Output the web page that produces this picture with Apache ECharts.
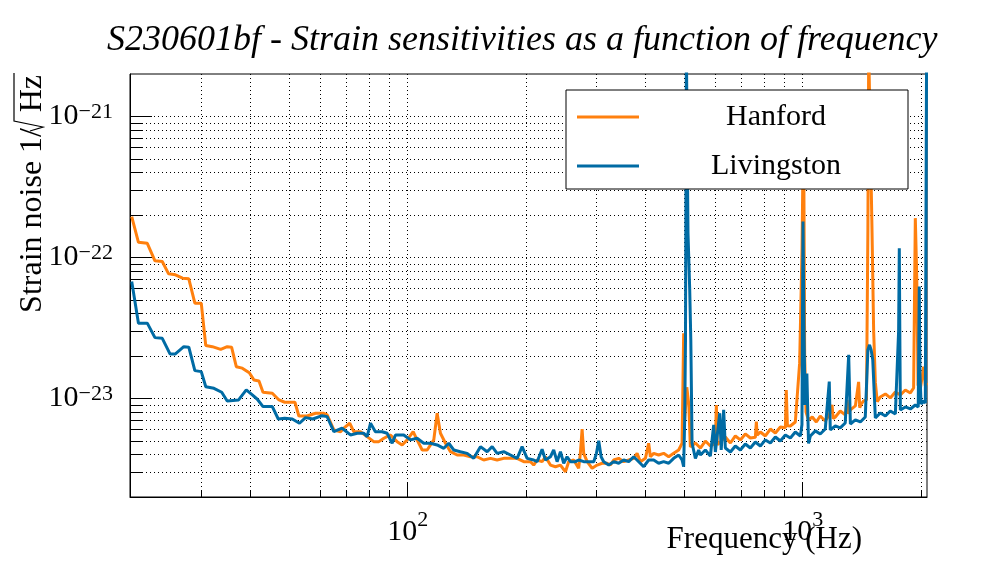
<!DOCTYPE html>
<html><head><meta charset="utf-8">
<script src="https://cdn.jsdelivr.net/npm/echarts@6/dist/echarts.min.js"></script>
<style>html,body{margin:0;padding:0;background:#fff}#c{width:996px;height:572px}</style>
</head><body><div id="c"></div>
<script>
// Frequency (Hz) and strain noise in units of 1e-23 / sqrt(Hz)
const hanford = [[20.0,19.5],[20.8,12.8],[21.9,12.6],[22.9,9.46],[23.9,9.35],[24.8,7.65],[25.8,7.53],[26.9,7.13],[27.9,7.05],[28.9,4.74],[30.0,4.74],[30.8,2.37],[32.0,2.33],[33.6,2.23],[34.9,2.33],[35.8,2.31],[36.8,1.68],[38.1,1.64],[39.7,1.52],[40.8,1.35],[42.0,1.33],[43.0,1.107],[45.4,1.089],[47.2,0.976],[48.8,0.940],[51.8,0.940],[53.0,0.751],[55.6,0.751],[58.4,0.785],[61.3,0.785],[62.5,0.764],[65.0,0.598],[67.6,0.581],[68.9,0.615],[71.3,0.667],[73.0,0.581],[75.9,0.581],[78.9,0.536],[82.0,0.494],[84.5,0.494],[87.0,0.522],[90.4,0.551],[94.0,0.494],[96.8,0.468],[99.7,0.508],[103.2,0.581],[105.6,0.508],[108.8,0.431],[112.0,0.431],[116.4,0.508],[118.7,0.785],[121.0,0.566],[124.6,0.481],[128.3,0.419],[133.4,0.397],[138.6,0.397],[144.1,0.386],[149.8,0.386],[155.7,0.366],[162.0,0.376],[168.4,0.366],[175.0,0.376],[182.0,0.376],[189.2,0.376],[196.7,0.356],[204.5,0.356],[208.4,0.337],[212.6,0.366],[218.9,0.356],[223.2,0.386],[229.8,0.337],[236.6,0.328],[243.6,0.337],[250.8,0.302],[255.6,0.356],[263.2,0.366],[270.9,0.320],[273.6,0.408],[276.4,0.605],[279.0,0.408],[284.6,0.356],[293.0,0.320],[301.7,0.337],[310.6,0.347],[319.8,0.347],[326.0,0.337],[332.3,0.366],[342.1,0.376],[352.3,0.356],[362.7,0.366],[373.5,0.376],[380.9,0.408],[388.3,0.356],[399.8,0.376],[407.5,0.481],[411.6,0.386],[419.6,0.408],[431.9,0.397],[444.7,0.408],[457.9,0.386],[471.4,0.408],[485.4,0.431],[495.1,0.481],[499.7,2.90],[502.7,0.70],[509,1.2],[515,0.9],[519.6,0.453],[535.1,0.483],[550.8,0.445],[567.2,0.499],[583.9,0.460],[601.2,0.480],[604.6,0.899],[608,0.47],[618.9,0.491],[637.2,0.533],[656.2,0.483],[675.5,0.542],[695.5,0.508],[715.9,0.560],[737.2,0.524],[759.1,0.530],[763.5,0.684],[767,0.55],[781.5,0.578],[804.7,0.542],[828.4,0.607],[853.0,0.569],[878.2,0.628],[904.2,0.62],[909,1.149],[915,0.64],[930.9,0.638],[958.3,0.681],[982.6,1.78],[996.5,11.6],[1003,60],[1007,40],[1012,2.0],[1020,0.8],[1034,0.704],[1058,0.739],[1083,0.681],[1108,0.751],[1141,0.692],[1168,0.764],[1187,0.899],[1195,0.72],[1210,0.739],[1245,0.815],[1282,0.764],[1296,0.976],[1305,0.78],[1321,0.829],[1360,0.885],[1386,1.31],[1395,0.86],[1408,0.914],[1427,0.960],[1451,0.976],[1463,15.7],[1470,300],[1484,300],[1498,16.6],[1513,3.0],[1528,1.3],[1545,0.95],[1573,1.025],[1620,1.076],[1667,1.008],[1717,1.112],[1768,1.059],[1820,1.149],[1874,1.094],[1910,1.187],[1929,19.0],[1945,7.33],[1960,1.247],[1986,1.168],[2025,1.68],[2045,1.226],[2062,1.29]];

const livingston = [[20.0,6.74],[20.8,3.42],[21.9,3.42],[22.9,2.70],[23.9,2.67],[25.0,2.07],[25.8,2.07],[27.1,2.33],[27.9,2.31],[28.9,1.575],[30.0,1.55],[30.8,1.21],[32.3,1.18],[33.8,1.107],[34.9,0.960],[37.3,0.976],[39.0,1.149],[40.4,1.059],[41.6,0.987],[43.0,0.875],[45.4,0.875],[47.0,0.715],[48.8,0.723],[51.0,0.715],[53.2,0.667],[55.1,0.731],[57.5,0.715],[60.7,0.755],[62.5,0.743],[65.0,0.581],[68.2,0.615],[71.6,0.551],[74.5,0.566],[77.4,0.566],[78.9,0.536],[80.5,0.667],[82.8,0.581],[86.1,0.581],[88.7,0.566],[91.3,0.481],[93.1,0.551],[97.7,0.551],[101.6,0.508],[105.6,0.522],[109.8,0.481],[114.2,0.481],[118.7,0.468],[123.4,0.443],[127.0,0.481],[130.8,0.431],[135.9,0.419],[141.4,0.408],[146.9,0.376],[152.8,0.455],[158.9,0.419],[163.6,0.455],[168.4,0.408],[175.0,0.419],[182.0,0.397],[189.2,0.376],[194.8,0.455],[200.6,0.376],[208.4,0.366],[212.6,0.356],[218.9,0.436],[223.2,0.366],[229.8,0.386],[234.2,0.431],[238.9,0.356],[243.6,0.419],[248.3,0.347],[253.2,0.386],[258.2,0.356],[265.8,0.356],[270.9,0.366],[279.0,0.356],[287.2,0.356],[295.8,0.356],[300.5,0.408],[304.5,0.502],[308.8,0.386],[313.5,0.356],[322.8,0.337],[332.3,0.356],[342.1,0.347],[352.3,0.366],[362.7,0.356],[373.5,0.386],[384.5,0.356],[395.9,0.328],[407.5,0.366],[419.6,0.366],[431.9,0.347],[444.7,0.356],[457.9,0.347],[471.4,0.376],[485.4,0.397],[495.1,0.366],[499.7,0.328],[502.7,0.704],[505.0,2.5],[507.7,300],[509.8,300],[512.5,14.9],[517.6,6.0],[521.0,2.60],[524.8,0.481],[535.1,0.376],[545.5,0.431],[550.8,0.397],[567.2,0.431],[583.9,0.390],[595.3,0.649],[601.2,0.417],[616.6,0.785],[622.0,0.431],[631.0,0.829],[637.2,0.445],[656.2,0.417],[675.5,0.460],[695.5,0.431],[715.9,0.475],[737.2,0.445],[759.1,0.491],[781.5,0.460],[804.7,0.508],[828.4,0.483],[853.0,0.533],[878.2,0.499],[904.2,0.551],[930.9,0.524],[958.3,0.578],[986.7,0.542],[996.0,0.65],[1002.0,18.0],[1008.0,3.0],[1014.0,0.9],[1025.0,1.5],[1035.0,0.48],[1046.0,0.542],[1077.0,0.589],[1108.0,0.560],[1141.0,0.607],[1168.0,1.316],[1175.0,0.598],[1210.0,0.638],[1245.0,0.618],[1282.0,0.670],[1308.0,2.04],[1321.0,0.659],[1360.0,0.704],[1400.0,0.681],[1441.0,0.739],[1463.0,2.21],[1477.0,2.40],[1491.0,2.21],[1505.0,1.88],[1528.0,0.727],[1573.0,0.789],[1620.0,0.751],[1667.0,0.815],[1717.0,0.776],[1750.0,3.0],[1757.0,11.6],[1764.0,2.0],[1768.0,0.829],[1820.0,0.870],[1874.0,0.842],[1929.0,0.899],[1962.0,0.870],[1968.0,2.2],[1974.0,6.22],[1982.0,1.5],[1995.0,0.914],[2025.0,0.960],[2045.0,0.929],[2055.0,0.95],[2060.0,300]];

// the y axis is expressed in units of 10^ASD_EXP
const ASD_EXP = -23;
const xMajorTicks = [100, 1000];
const xMinorTicks = [30,40,50,60,70,80,90,200,300,400,500,600,700,800,900,2000];
const yMajorTicks = [1, 10, 100];
const yMinorTicks = [0.3,0.4,0.5,0.6,0.7,0.8,0.9,2,3,4,5,6,7,8,9,20,30,40,50,60,70,80,90];
const seriesNames = ['Hanford', 'Livingston'];
const titleText = 'S230601bf - Strain sensitivities as a function of frequency';
const xTitle = 'Frequency (Hz)';

const FONT = '"Liberation Serif", "Times New Roman", serif';
const chart = echarts.init(document.getElementById('c'));
function expText(e) { return e < 0 ? '\u2212' + (-e) : String(e); }
const xLabel = v => '{b|10}{s|' + expText(Math.round(Math.log10(v))) + '}';
const yLabel = v => '{b|10}{s|' + expText(Math.round(Math.log10(v)) + ASD_EXP) + '}';
const labelRich = {
  b: {fontSize: 30, fontFamily: FONT, color: '#000', lineHeight: 38, verticalAlign: 'bottom'},
  s: {fontSize: 22, fontFamily: FONT, color: '#000', lineHeight: 22, verticalAlign: 'top'}
};
const yLabelRich = {
  b: {fontSize: 30, fontFamily: FONT, color: '#000', lineHeight: 30, verticalAlign: 'bottom', padding: [16, 0, 0, 0]},
  s: {fontSize: 22, fontFamily: FONT, color: '#000', lineHeight: 22, verticalAlign: 'top', padding: [0, 0, 0, 0]}
};
const dotted = {color: '#000', width: 1, type: [1, 3]};
const xRange = {min: 19.8, max: 2065};
const yRange = {min: 0.2, max: 200};

const option = {
  animation: false,
  backgroundColor: '#fff',
  title: {
    text: titleText, left: 107, top: 23, padding: 0,
    textStyle: {fontFamily: FONT, fontStyle: 'italic', fontWeight: 'normal', fontSize: 36, color: '#000'}
  },
  grid: {left: 130, right: 69, top: 74, bottom: 75, show: true, borderColor: '#000', borderWidth: 1, backgroundColor: 'transparent'},
  legend: {
    orient: 'vertical', left: 566, top: 90, padding: [12, 0, 8, 11], itemGap: 19,
    itemWidth: 62, itemHeight: 3, icon: 'rect',
    backgroundColor: '#fff', borderColor: '#000', borderWidth: 1, borderRadius: 0,
    selectedMode: false,
    data: seriesNames,
    formatter: n => '{n|' + n + '}',
    textStyle: {rich: {n: {width: 264, height: 30, align: 'center', fontSize: 30, fontFamily: FONT, lineHeight: 30, color: '#000'}}}
  },
  xAxis: [
    Object.assign({type: 'log', logBase: 10, position: 'bottom',
      axisLine: {show: true, onZero: false, lineStyle: {color: '#000', width: 1}},
      axisTick: {show: true, inside: true, length: 7, customValues: xMinorTicks.concat(xMajorTicks), lineStyle: {color: '#000', width: 1}},
      minorTick: {show: false},
      splitLine: {show: true, lineStyle: dotted},
      axisLabel: {customValues: xMajorTicks, formatter: xLabel, margin: 12, rich: labelRich}
    }, xRange),
    Object.assign({type: 'log', logBase: 10, position: 'bottom',
      axisLine: {show: false},
      axisTick: {show: true, inside: true, length: 15, customValues: xMajorTicks, lineStyle: {color: '#000', width: 1}},
      splitLine: {show: false}, axisLabel: {show: false}
    }, xRange)
  ],
  yAxis: [
    Object.assign({type: 'log', logBase: 10, position: 'left',
      axisLine: {show: true, onZero: false, lineStyle: {color: '#000', width: 1}},
      axisTick: {show: true, inside: true, length: 12, customValues: yMinorTicks.concat(yMajorTicks), lineStyle: {color: '#000', width: 1}},
      minorTick: {show: false},
      splitLine: {show: true, lineStyle: dotted},
      axisLabel: {customValues: yMajorTicks, formatter: yLabel, margin: 17, rich: yLabelRich}
    }, yRange),
    Object.assign({type: 'log', logBase: 10, position: 'left',
      axisLine: {show: false},
      axisTick: {show: true, inside: true, length: 22, customValues: yMajorTicks, lineStyle: {color: '#000', width: 1}},
      splitLine: {show: false}, axisLabel: {show: false}
    }, yRange)
  ],
  graphic: [
    {type: 'text', rotation: Math.PI / 2, x: 17, y: 128,
      style: {text: 'Strain noise 1/', font: '32px "Liberation Serif"', fill: '#000', align: 'right', verticalAlign: 'top'}},
    {type: 'text', rotation: Math.PI / 2, x: 17, y: 75,
      style: {text: 'Hz', font: '32px "Liberation Serif"', fill: '#000', align: 'right', verticalAlign: 'top'}},
    {type: 'polyline', shape: {points: [[30, 131], [43, 127], [14, 121], [14, 73]]}, style: {stroke: '#000', lineWidth: 1.2, fill: null}},
    {type: 'text', x: 862, y: 540,
      style: {text: xTitle, font: '31px "Liberation Serif"', fill: '#000', align: 'right', verticalAlign: 'middle'}}
  ],
  series: [
    {name: seriesNames[0], type: 'line', xAxisIndex: 0, yAxisIndex: 0, showSymbol: false, symbol: 'none', clip: true,
      color: '#FF800E', lineStyle: {width: 3, color: '#FF800E'},
      data: hanford},
    {name: seriesNames[1], type: 'line', xAxisIndex: 0, yAxisIndex: 0, showSymbol: false, symbol: 'none', clip: true,
      color: '#006BA4', lineStyle: {width: 3, color: '#006BA4'},
      data: livingston}
  ]
};
chart.setOption(option);
</script>
</body></html>
